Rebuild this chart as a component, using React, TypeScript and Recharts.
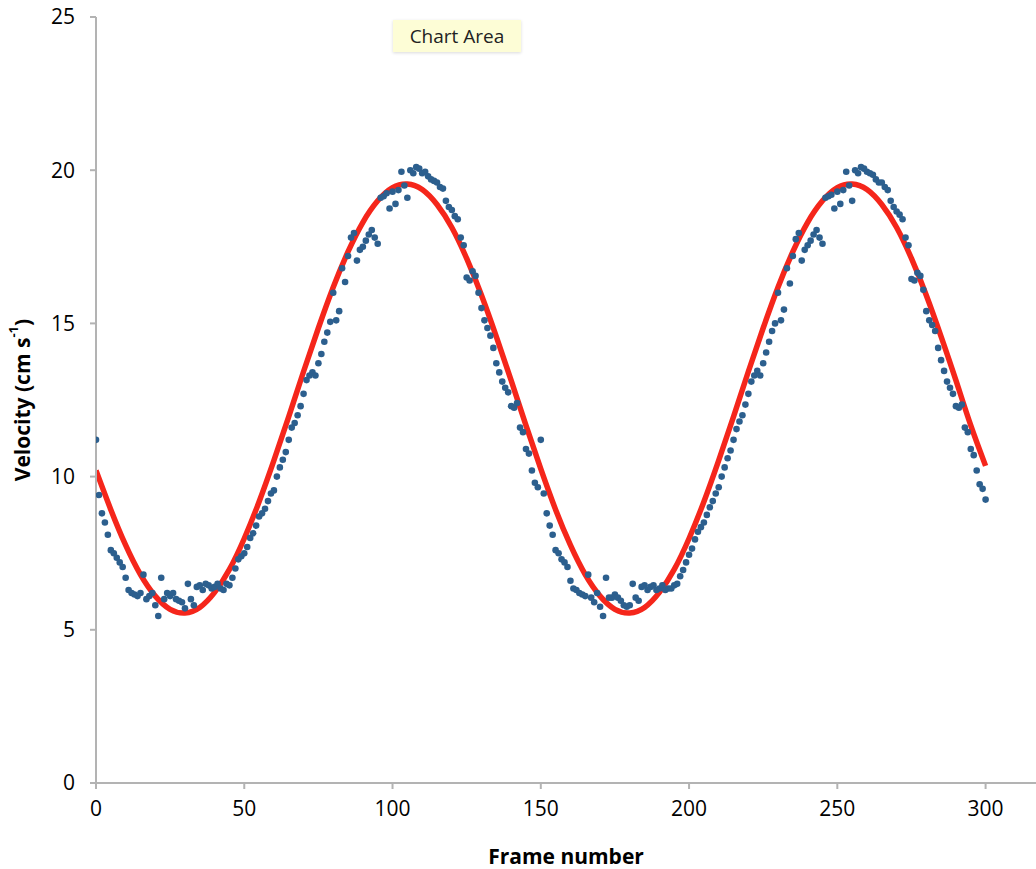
import React from 'react';
import { ComposedChart, Scatter, Line, XAxis, YAxis } from 'recharts';

// Measured velocity, frames 0..149 (first cycle)
const velocityCycle1: number[] = [
  11.2, 9.4, 8.8, 8.5, 8.1, 7.6, 7.5, 7.35, 7.2, 7.05,
  6.7, 6.3, 6.2, 6.15, 6.1, 6.2, 6.8, 6.0, 6.1, 6.2,
  5.8, 5.45, 6.7, 6.0, 6.2, 6.1, 6.2, 6.0, 5.95, 5.9,
  5.7, 6.5, 6.0, 5.8, 6.4, 6.45, 6.3, 6.5, 6.45, 6.35,
  6.4, 6.5, 6.35, 6.3, 6.5, 6.45, 6.7, 7.0, 7.3, 7.4,
  7.5, 7.7, 8.0, 8.15, 8.4, 8.7, 8.8, 8.95, 9.2, 9.45,
  9.55, 10.0, 10.3, 10.55, 10.8, 11.2, 11.6, 11.75, 12.0, 12.3,
  12.7, 13.15, 13.3, 13.4, 13.3, 13.7, 14.0, 14.4, 14.7, 15.05,
  16.0, 15.1, 15.4, 16.8, 16.35, 17.2, 17.8, 17.95, 17.05, 17.4,
  17.5, 17.7, 17.9, 18.05, 17.8, 17.6, 19.1, 19.15, 19.25, 18.75,
  19.3, 18.9, 19.35, 19.95, 19.5, 19.1, 20.0, 19.9, 20.1, 20.05,
  19.9, 19.95, 19.8, 19.7, 19.65, 19.6, 19.45, 19.4, 19.0, 18.8,
  18.7, 18.5, 18.4, 17.8, 17.55, 16.5, 16.4, 16.7, 16.55, 16.0,
  15.5, 15.1, 14.85, 14.6, 14.2, 13.7, 13.4, 13.1, 12.9, 12.75,
  12.3, 12.25, 12.4, 11.6, 11.45, 10.9, 10.75, 10.2, 9.8, 9.65,
];

// Measured velocity, frames 150..300 (second cycle)
const velocityCycle2: number[] = [
  11.2, 9.45, 8.8, 8.4, 8.1, 7.6, 7.5, 7.3, 7.2, 7.05,
  6.6, 6.35, 6.3, 6.2, 6.15, 6.1, 6.8, 6.05, 5.9, 6.2,
  5.75, 5.45, 6.7, 6.05, 6.05, 6.15, 6.05, 5.95, 5.8, 5.75,
  5.8, 6.5, 6.05, 5.95, 6.4, 6.45, 6.3, 6.4, 6.45, 6.3,
  6.35, 6.45, 6.3, 6.35, 6.35, 6.45, 6.5, 6.75, 6.95, 7.2,
  7.45, 7.65, 7.95, 8.2, 8.35, 8.5, 8.75, 9.0, 9.2, 9.45,
  9.65, 10.0, 10.3, 10.6, 10.85, 11.2, 11.55, 11.8, 12.0, 12.35,
  12.7, 13.1, 13.3, 13.45, 13.3, 13.7, 14.05, 14.4, 14.75, 15.0,
  16.0, 15.1, 15.45, 16.8, 16.3, 17.2, 17.75, 17.95, 17.05, 17.4,
  17.55, 17.7, 17.9, 18.05, 17.8, 17.6, 19.1, 19.15, 19.2, 18.75,
  19.3, 18.9, 19.35, 19.95, 19.5, 19.0, 20.0, 19.9, 20.1, 20.05,
  19.95, 19.9, 19.85, 19.7, 19.6, 19.6, 19.45, 19.35, 19.0, 18.8,
  18.65, 18.55, 18.4, 17.8, 17.55, 16.45, 16.4, 16.65, 16.55, 16.1,
  15.4, 15.1, 14.95, 14.75, 14.2, 13.8, 13.45, 13.1, 12.9, 12.7,
  12.3, 12.25, 12.35, 11.6, 11.45, 10.9, 10.7, 10.2, 9.75, 9.6,
  9.25,
];

// Fitted curve, sampled every 5 frames from 0 to 300
const fitFrames: number[] = [
  0, 5, 10, 15, 20, 25, 30, 35, 40, 45, 50, 55, 60, 65, 70, 75, 80, 85, 90, 95,
  100, 105, 110, 115, 120, 125, 130, 135, 140, 145, 150, 155, 160, 165, 170, 175,
  180, 185, 190, 195, 200, 205, 210, 215, 220, 225, 230, 235, 240, 245, 250, 255,
  260, 265, 270, 275, 280, 285, 290, 295, 300,
];
const fitValues: number[] = [
  10.2, 8.92, 7.76, 6.8, 6.1, 5.67, 5.55, 5.73, 6.22, 6.97, 7.98, 9.18, 10.53, 11.96,
  13.43, 14.85, 16.18, 17.34, 18.3, 19.0, 19.43, 19.55, 19.37, 18.88, 18.13, 17.12,
  15.92, 14.57, 13.14, 11.67, 10.25, 8.92, 7.76, 6.8, 6.1, 5.67, 5.55, 5.73, 6.22,
  6.97, 7.98, 9.18, 10.53, 11.96, 13.43, 14.85, 16.18, 17.34, 18.3, 19.0, 19.43,
  19.55, 19.37, 18.88, 18.13, 17.12, 15.92, 14.57, 13.14, 11.67, 10.35,
];

const xTicks: number[] = [0, 50, 100, 150, 200, 250, 300];
const yTicks: number[] = [0, 5, 10, 15, 20, 25];

const measured = [...velocityCycle1, ...velocityCycle2];
const scatterData = measured.map((v, i) => ({ x: i, y: v }));
const fitData = fitFrames.map((f, i) => ({ x: f, y: fitValues[i] }));

const FONT = '"Open Sans", "DejaVu Sans", sans-serif';
const AXIS = '#b3b3b3';

const Dot = (props: any) => {
  const { cx, cy } = props;
  if (cx == null || cy == null) return null;
  return <circle cx={cx} cy={cy} r={3.3} fill="#2c5f8e" />;
};

const YLabel = () => (
  <text
    x={22}
    y={400}
    transform="rotate(-90, 22, 400)"
    textAnchor="middle"
    dominantBaseline="central"
    fontFamily={FONT}
    fontWeight={700}
    fontSize={21}
    fill="#000"
  >
    Velocity (cm s
    <tspan baselineShift="super" fontSize={13}>-1</tspan>
    )
  </text>
);

export default function App() {
  return (
    <div style={{ position: 'absolute', left: 0, top: 0, width: 1036, height: 869, background: '#fff' }}>
      <ComposedChart
        width={1036}
        height={869}
        margin={{ top: 17, right: 0, bottom: 0, left: 0 }}
      >
        <XAxis
          type="number"
          dataKey="x"
          domain={[0, 317]}
          allowDataOverflow
          ticks={xTicks}
          interval={0}
          height={86}
          stroke={AXIS}
          strokeWidth={2}
          tickSize={6}
          tickMargin={12}
          tick={{ fontFamily: FONT, fontSize: 21, fill: '#000' }}
          label={{
            value: 'Frame number',
            position: 'insideBottom',
            offset: 5,
            style: { fontFamily: FONT, fontWeight: 700, fontSize: 21, fill: '#000' },
          }}
        />
        <YAxis
          type="number"
          dataKey="y"
          domain={[0, 25]}
          ticks={yTicks}
          interval={0}
          width={96}
          stroke={AXIS}
          strokeWidth={2}
          tickSize={6}
          tickMargin={15}
          tick={{ fontFamily: FONT, fontSize: 21, fill: '#000' }}
          label={<YLabel />}
        />
        <Scatter data={scatterData} dataKey="y" shape={<Dot />} isAnimationActive={false} />
        <Line
          data={fitData}
          dataKey="y"
          type="natural"
          stroke="#f5261b"
          strokeWidth={5.5}
          dot={false}
          activeDot={false}
          isAnimationActive={false}
        />
      </ComposedChart>
      <div
        style={{
          position: 'absolute',
          left: 393,
          top: 20,
          width: 128,
          height: 32,
          background: '#fdfdd6',
          boxShadow: '0 1px 3px rgba(0,0,0,0.15)',
          fontFamily: FONT,
          fontSize: 19,
          color: '#222',
          lineHeight: '32px',
          textAlign: 'center',
        }}
      >
        Chart Area
      </div>
    </div>
  );
}
